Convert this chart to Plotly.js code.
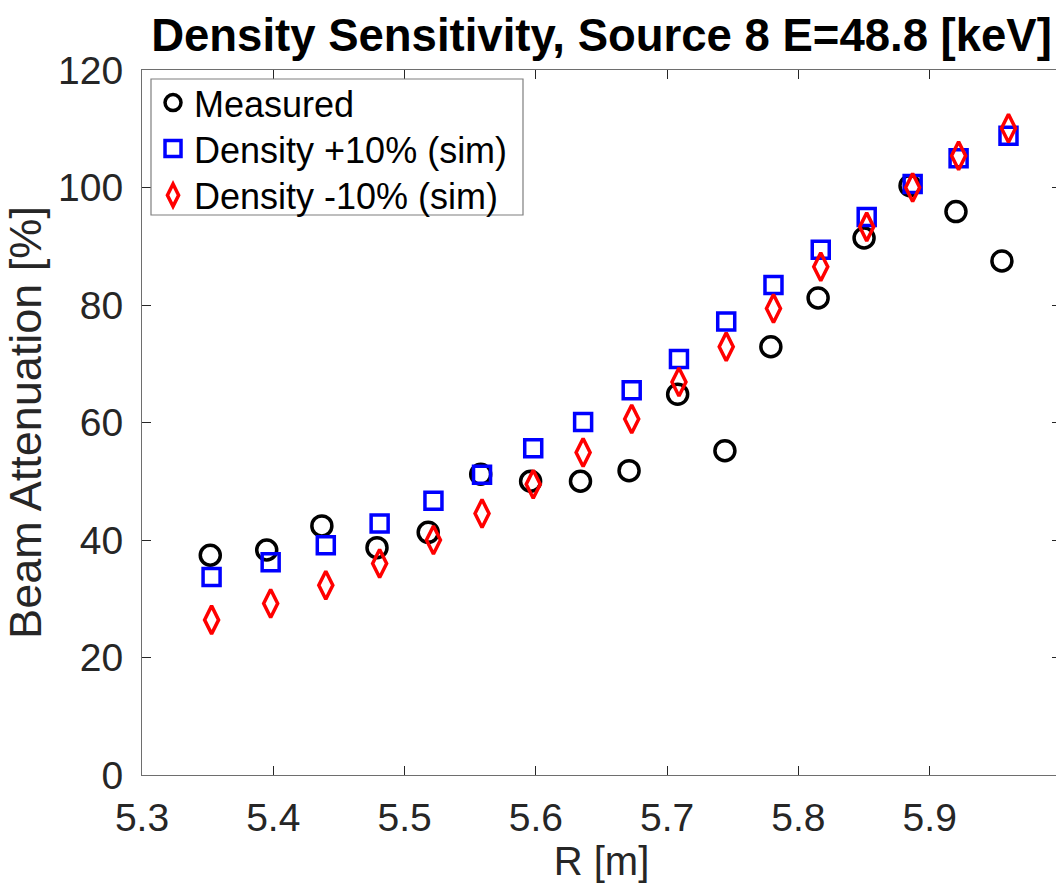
<!DOCTYPE html>
<html>
<head>
<meta charset="utf-8">
<script src="https://cdn.plot.ly/plotly-3.0.1.min.js"></script>
<style>
  html, body { margin: 0; padding: 0; overflow: hidden; background: #fff; }
  #chart { width: 1062px; height: 888px; }
</style>
</head>
<body>
<div id="chart"></div>
<script>
// ---- data ----
const measR = [5.352, 5.395, 5.437, 5.479, 5.518, 5.558, 5.596, 5.634, 5.671, 5.708, 5.744, 5.779, 5.815, 5.850, 5.885, 5.920, 5.955];
const measV = [37.4, 38.3, 42.4, 38.7, 41.3, 51.2, 50.0, 50.0, 51.8, 64.8, 55.2, 72.9, 81.2, 91.4, 100.3, 95.9, 87.5];
const simR = [5.353, 5.398, 5.440, 5.481, 5.522, 5.559, 5.598, 5.636, 5.673, 5.709, 5.745, 5.781, 5.817, 5.852, 5.887, 5.922, 5.960];
const plusV = [33.7, 36.2, 39.1, 42.8, 46.7, 51.1, 55.6, 60.1, 65.5, 70.8, 77.2, 83.4, 89.4, 95.0, 100.6, 105.0, 108.8];
const minusV = [26.4, 29.2, 32.3, 36.0, 40.0, 44.5, 49.5, 54.9, 60.6, 66.9, 72.9, 79.4, 86.5, 93.3, 100.0, 105.4, 110.1];
const seriesNames = ["Measured", "Density +10% (sim)", "Density -10% (sim)"];
const xTickVals = [5.3, 5.4, 5.5, 5.6, 5.7, 5.8, 5.9];
const xTickText = ["5.3", "5.4", "5.5", "5.6", "5.7", "5.8", "5.9"];
const yTickVals = [0, 20, 40, 60, 80, 100, 120];
const titleText = "Density Sensitivity, Source 8 E=48.8 [keV]";
const xTitle = "R [m]";
const yTitle = "Beam Attenuation [%]";

const FONT = "Liberation Sans, Arial, Helvetica, sans-serif";
const AX = "#262626";

const traces = [
  {
    x: measR, y: measV, name: seriesNames[0], type: "scatter", mode: "markers", legend: "legend",
    marker: { symbol: "circle-open", size: 20, color: "#000000", line: { width: 3.5, color: "#000000" } }
  },
  {
    x: simR, y: plusV, name: seriesNames[1], type: "scatter", mode: "markers", legend: "legend2",
    marker: { symbol: "square-open", size: 17, color: "#0000ff", line: { width: 3.5, color: "#0000ff" } }
  },
  {
    x: simR, y: minusV, name: seriesNames[2], type: "scatter", mode: "markers", legend: "legend3",
    marker: { symbol: "diamond-tall-open", size: 20, color: "#ff0000", line: { width: 3.5, color: "#ff0000" } }
  }
];

function legendRow(yPaper) {
  return {
    x: 0.0109, y: yPaper, xanchor: "left", yanchor: "middle",
    bgcolor: "rgba(0,0,0,0)", borderwidth: 0,
    font: { family: FONT, size: 36, color: "#000000" },
    itemwidth: 32
  };
}

const layout = {
  width: 1062, height: 888,
  margin: { l: 142, r: 1, t: 70, b: 113, pad: 0 },
  paper_bgcolor: "#ffffff", plot_bgcolor: "#ffffff",
  font: { family: FONT, color: AX },
  title: {
    text: "<b>" + titleText + "</b>",
    font: { family: FONT, size: 45.5, color: "#000000" },
    x: 0.5, xref: "paper", xanchor: "center",
    y: 37, yref: "container", yanchor: "middle"
  },
  xaxis: {
    range: [5.3, 6.0], tickvals: xTickVals, ticktext: xTickText,
    ticks: "inside", ticklen: 9, tickwidth: 1, tickcolor: AX,
    showline: true, linecolor: "#6e6e6e", linewidth: 1, mirror: "ticks",
    showgrid: false, zeroline: false,
    tickfont: { family: FONT, size: 39, color: AX },
    ticklabelstandoff: 8,
    title: { text: xTitle, font: { family: FONT, size: 40, color: AX }, standoff: 8 }
  },
  yaxis: {
    range: [0, 120], tickvals: yTickVals,
    ticks: "inside", ticklen: 9, tickwidth: 1, tickcolor: AX,
    showline: true, linecolor: "#6e6e6e", linewidth: 1, mirror: "ticks",
    showgrid: false, zeroline: false,
    tickfont: { family: FONT, size: 39, color: AX },
    ticklabelstandoff: 10,
    title: { text: yTitle, font: { family: FONT, size: 45, color: AX }, standoff: 2 }
  },
  shapes: [
    {
      type: "rect", xref: "paper", yref: "paper", layer: "above",
      x0: 0.00979, x1: 0.41458, y0: 0.79433, y1: 0.98723,
      line: { color: "#7f7f7f", width: 1.2 }, fillcolor: "#ffffff"
    }
  ],
  showlegend: true,
  legend: legendRow(0.95362),
  legend2: legendRow(0.88837),
  legend3: legendRow(0.82227)
};

Plotly.newPlot("chart", traces, layout, { displayModeBar: false, staticPlot: true });
</script>
</body>
</html>
